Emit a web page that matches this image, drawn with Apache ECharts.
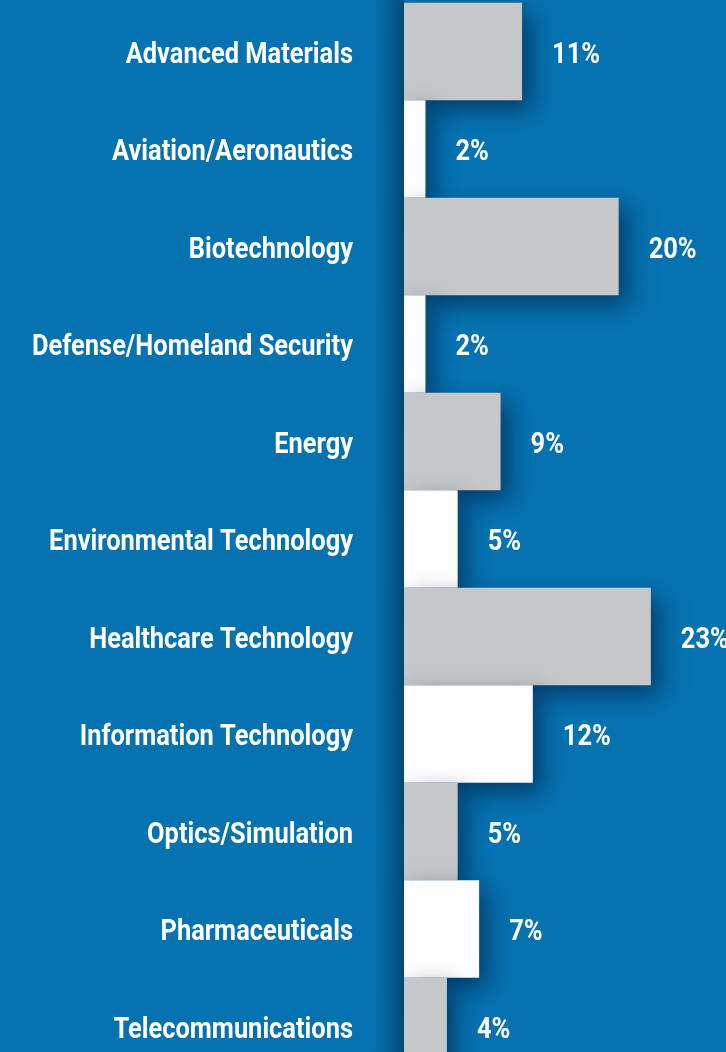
<!DOCTYPE html>
<html lang="en">
<head>
    <meta charset="UTF-8">
    <title>Industry share</title>
    <script type="text/javascript" src="https://cdn.jsdelivr.net/npm/echarts@6/dist/echarts.min.js"></script>
    <style>
        html, body {margin: 0; padding: 0; background: #0672b0;}
        #charts {width: 726px; height: 1052px;}
    </style>
</head>
<body>
<div id="charts"></div>
<script>
    // industries, top to bottom
    var industries = ['Advanced Materials', 'Aviation/Aeronautics', 'Biotechnology', 'Defense/Homeland Security',
        'Energy', 'Environmental Technology', 'Healthcare Technology', 'Information Technology',
        'Optics/Simulation', 'Pharmaceuticals', 'Telecommunications']
    var shares = [11, 2, 20, 2, 9, 5, 23, 12, 5, 7, 4]
    var barColors = ['#c6c7c9', '#fdfdfd']

    var fontFamily = 'Roboto'
    var fontSize = 30
    // the original uses a condensed face, so squeeze a normal one to the same width
    var ctx = document.createElement('canvas').getContext('2d')
    ctx.font = 'bold ' + fontSize + 'px ' + fontFamily
    var squeeze = 321 / ctx.measureText('Defense/Homeland Security').width

    function textEl(x, y, str, align) {
        return {
            type: 'text',
            x: x, y: y,
            scaleX: squeeze,
            style: {
                text: str,
                fill: '#ffffff',
                fontSize: fontSize,
                fontWeight: 'bold',
                fontFamily: fontFamily,
                align: align,
                verticalAlign: 'middle'
            }
        }
    }

    var chart = echarts.init(document.getElementById('charts'), null, {renderer: 'canvas'})
    chart.setOption({
        animation: false,
        backgroundColor: new echarts.graphic.LinearGradient(0, 0, 1, 0, [
            {offset: 0, color: '#0672b0'},
            {offset: 0.515, color: '#0672b0'},
            {offset: 0.556, color: '#03507f'},
            {offset: 0.557, color: '#0672b0'},
            {offset: 1, color: '#0672b0'}
        ]),
        grid: {left: 404, top: 2.7, width: 322, height: 1072.5, outerBoundsMode: 'none', containLabel: false},
        xAxis: {type: 'value', min: 0, max: 30, show: false},
        yAxis: {
            type: 'category',
            data: industries,
            inverse: true,
            axisLine: {show: false},
            axisTick: {show: false},
            axisLabel: {show: false}
        },
        series: [{
            type: 'bar',
            barCategoryGap: '0%',
            data: shares.map(function (v, i) {
                return {value: v, itemStyle: {color: barColors[i % 2]}}
            }),
            itemStyle: {
                shadowBlur: 22,
                shadowColor: 'rgba(0, 25, 60, 0.6)',
                shadowOffsetX: 8,
                shadowOffsetY: 10
            }
        }, {
            // industry names left of the bars
            type: 'custom',
            clip: false,
            silent: true,
            data: industries.map(function (n, i) { return [0, i] }),
            renderItem: function (params, api) {
                var pt = api.coord([0, api.value(1)])
                return textEl(pt[0] - 51, pt[1] + 4, industries[params.dataIndex], 'right')
            }
        }, {
            // percentage labels after the bars
            type: 'custom',
            clip: false,
            silent: true,
            data: shares.map(function (v, i) { return [v, i] }),
            renderItem: function (params, api) {
                var pt = api.coord([api.value(0), api.value(1)])
                return textEl(pt[0] + 30, pt[1] + 4, api.value(0) + '%', 'left')
            }
        }]
    })
</script>
</body>
</html>
